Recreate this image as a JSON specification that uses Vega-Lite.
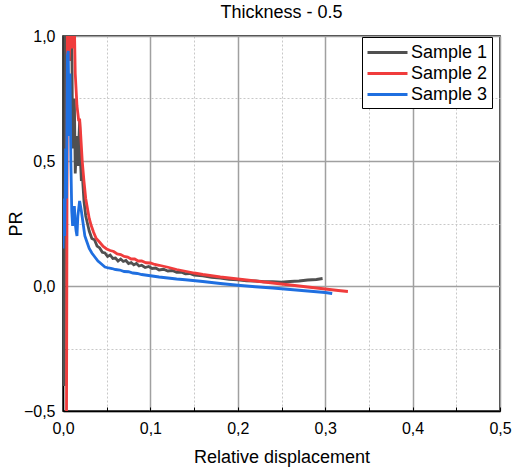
{
  "$schema": "https://vega.github.io/schema/vega-lite/v6.json",
  "width": 437,
  "height": 375,
  "autosize": {"type": "none"},
  "padding": {"left": 63, "top": 36, "right": 12, "bottom": 61},
  "background": "white",
  "title": {"text": "Thickness - 0.5", "fontSize": 18, "font": "Liberation Sans", "fontWeight": "normal", "color": "black", "offset": 6},
  "config": {
    "view": {"stroke": "black", "strokeWidth": 1.5},
    "font": "Liberation Sans"
  },
  "data": {"values": [
    {"series": "Sample 1", "x": 0.0015, "y": -0.40},
    {"series": "Sample 1", "x": 0.0018, "y": 0.3},
    {"series": "Sample 1", "x": 0.002, "y": 1.05},
    {"series": "Sample 1", "x": 0.004, "y": 0.8},
    {"series": "Sample 1", "x": 0.006, "y": 1.05},
    {"series": "Sample 1", "x": 0.008, "y": 0.9},
    {"series": "Sample 1", "x": 0.010, "y": 1.05},
    {"series": "Sample 1", "x": 0.011, "y": 0.55},
    {"series": "Sample 1", "x": 0.013, "y": 0.75},
    {"series": "Sample 1", "x": 0.014, "y": 0.45},
    {"series": "Sample 1", "x": 0.016, "y": 0.6},
    {"series": "Sample 1", "x": 0.017, "y": 0.48},
    {"series": "Sample 1", "x": 0.019, "y": 0.66},
    {"series": "Sample 1", "x": 0.020, "y": 0.5},
    {"series": "Sample 1", "x": 0.021, "y": 0.42},
    {"series": "Sample 1", "x": 0.022, "y": 0.45},
    {"series": "Sample 1", "x": 0.024, "y": 0.34},
    {"series": "Sample 1", "x": 0.026, "y": 0.28},
    {"series": "Sample 1", "x": 0.028, "y": 0.25},
    {"series": "Sample 1", "x": 0.030, "y": 0.22},
    {"series": "Sample 1", "x": 0.033, "y": 0.19},
    {"series": "Sample 1", "x": 0.036, "y": 0.185},
    {"series": "Sample 1", "x": 0.039, "y": 0.16},
    {"series": "Sample 1", "x": 0.042, "y": 0.152},
    {"series": "Sample 1", "x": 0.045, "y": 0.135},
    {"series": "Sample 1", "x": 0.048, "y": 0.132},
    {"series": "Sample 1", "x": 0.051, "y": 0.118},
    {"series": "Sample 1", "x": 0.054, "y": 0.124},
    {"series": "Sample 1", "x": 0.057, "y": 0.11},
    {"series": "Sample 1", "x": 0.060, "y": 0.112},
    {"series": "Sample 1", "x": 0.063, "y": 0.1},
    {"series": "Sample 1", "x": 0.066, "y": 0.108},
    {"series": "Sample 1", "x": 0.069, "y": 0.098},
    {"series": "Sample 1", "x": 0.072, "y": 0.102},
    {"series": "Sample 1", "x": 0.075, "y": 0.09},
    {"series": "Sample 1", "x": 0.078, "y": 0.094},
    {"series": "Sample 1", "x": 0.081, "y": 0.085},
    {"series": "Sample 1", "x": 0.084, "y": 0.09},
    {"series": "Sample 1", "x": 0.087, "y": 0.08},
    {"series": "Sample 1", "x": 0.090, "y": 0.083},
    {"series": "Sample 1", "x": 0.094, "y": 0.074},
    {"series": "Sample 1", "x": 0.098, "y": 0.078},
    {"series": "Sample 1", "x": 0.102, "y": 0.07},
    {"series": "Sample 1", "x": 0.106, "y": 0.072},
    {"series": "Sample 1", "x": 0.11, "y": 0.064},
    {"series": "Sample 1", "x": 0.115, "y": 0.067},
    {"series": "Sample 1", "x": 0.12, "y": 0.06},
    {"series": "Sample 1", "x": 0.125, "y": 0.062},
    {"series": "Sample 1", "x": 0.13, "y": 0.055},
    {"series": "Sample 1", "x": 0.135, "y": 0.056},
    {"series": "Sample 1", "x": 0.14, "y": 0.049},
    {"series": "Sample 1", "x": 0.145, "y": 0.05},
    {"series": "Sample 1", "x": 0.15, "y": 0.044},
    {"series": "Sample 1", "x": 0.16, "y": 0.041},
    {"series": "Sample 1", "x": 0.17, "y": 0.035},
    {"series": "Sample 1", "x": 0.18, "y": 0.032},
    {"series": "Sample 1", "x": 0.19, "y": 0.027},
    {"series": "Sample 1", "x": 0.2, "y": 0.025},
    {"series": "Sample 1", "x": 0.21, "y": 0.021},
    {"series": "Sample 1", "x": 0.22, "y": 0.02},
    {"series": "Sample 1", "x": 0.23, "y": 0.017},
    {"series": "Sample 1", "x": 0.24, "y": 0.017},
    {"series": "Sample 1", "x": 0.25, "y": 0.015},
    {"series": "Sample 1", "x": 0.26, "y": 0.018},
    {"series": "Sample 1", "x": 0.27, "y": 0.02},
    {"series": "Sample 1", "x": 0.28, "y": 0.024},
    {"series": "Sample 1", "x": 0.29, "y": 0.026},
    {"series": "Sample 1", "x": 0.297, "y": 0.03},

    {"series": "Sample 2", "x": 0.004, "y": -0.55},
    {"series": "Sample 2", "x": 0.0045, "y": 0.2},
    {"series": "Sample 2", "x": 0.005, "y": 1.05},
    {"series": "Sample 2", "x": 0.007, "y": 0.9},
    {"series": "Sample 2", "x": 0.009, "y": 1.05},
    {"series": "Sample 2", "x": 0.011, "y": 0.95},
    {"series": "Sample 2", "x": 0.013, "y": 1.05},
    {"series": "Sample 2", "x": 0.014, "y": 0.85},
    {"series": "Sample 2", "x": 0.016, "y": 0.72},
    {"series": "Sample 2", "x": 0.018, "y": 0.66},
    {"series": "Sample 2", "x": 0.019, "y": 0.67},
    {"series": "Sample 2", "x": 0.020, "y": 0.62},
    {"series": "Sample 2", "x": 0.022, "y": 0.5},
    {"series": "Sample 2", "x": 0.024, "y": 0.42},
    {"series": "Sample 2", "x": 0.026, "y": 0.35},
    {"series": "Sample 2", "x": 0.028, "y": 0.31},
    {"series": "Sample 2", "x": 0.030, "y": 0.27},
    {"series": "Sample 2", "x": 0.032, "y": 0.245},
    {"series": "Sample 2", "x": 0.035, "y": 0.215},
    {"series": "Sample 2", "x": 0.038, "y": 0.19},
    {"series": "Sample 2", "x": 0.042, "y": 0.175},
    {"series": "Sample 2", "x": 0.046, "y": 0.158},
    {"series": "Sample 2", "x": 0.05, "y": 0.148},
    {"series": "Sample 2", "x": 0.054, "y": 0.142},
    {"series": "Sample 2", "x": 0.058, "y": 0.138},
    {"series": "Sample 2", "x": 0.062, "y": 0.128},
    {"series": "Sample 2", "x": 0.066, "y": 0.126},
    {"series": "Sample 2", "x": 0.07, "y": 0.118},
    {"series": "Sample 2", "x": 0.074, "y": 0.116},
    {"series": "Sample 2", "x": 0.078, "y": 0.108},
    {"series": "Sample 2", "x": 0.082, "y": 0.108},
    {"series": "Sample 2", "x": 0.086, "y": 0.1},
    {"series": "Sample 2", "x": 0.09, "y": 0.1},
    {"series": "Sample 2", "x": 0.095, "y": 0.093},
    {"series": "Sample 2", "x": 0.1, "y": 0.092},
    {"series": "Sample 2", "x": 0.105, "y": 0.086},
    {"series": "Sample 2", "x": 0.11, "y": 0.083},
    {"series": "Sample 2", "x": 0.12, "y": 0.075},
    {"series": "Sample 2", "x": 0.13, "y": 0.066},
    {"series": "Sample 2", "x": 0.14, "y": 0.059},
    {"series": "Sample 2", "x": 0.15, "y": 0.052},
    {"series": "Sample 2", "x": 0.16, "y": 0.046},
    {"series": "Sample 2", "x": 0.17, "y": 0.041},
    {"series": "Sample 2", "x": 0.18, "y": 0.036},
    {"series": "Sample 2", "x": 0.19, "y": 0.032},
    {"series": "Sample 2", "x": 0.2, "y": 0.028},
    {"series": "Sample 2", "x": 0.22, "y": 0.02},
    {"series": "Sample 2", "x": 0.24, "y": 0.012},
    {"series": "Sample 2", "x": 0.26, "y": 0.004},
    {"series": "Sample 2", "x": 0.28, "y": -0.004},
    {"series": "Sample 2", "x": 0.3, "y": -0.012},
    {"series": "Sample 2", "x": 0.315, "y": -0.018},
    {"series": "Sample 2", "x": 0.326, "y": -0.022},

    {"series": "Sample 3", "x": 0.0, "y": 0.15},
    {"series": "Sample 3", "x": 0.001, "y": 0.35},
    {"series": "Sample 3", "x": 0.002, "y": 0.2},
    {"series": "Sample 3", "x": 0.003, "y": 0.55},
    {"series": "Sample 3", "x": 0.004, "y": 0.35},
    {"series": "Sample 3", "x": 0.005, "y": 0.92},
    {"series": "Sample 3", "x": 0.006, "y": 0.94},
    {"series": "Sample 3", "x": 0.007, "y": 0.6},
    {"series": "Sample 3", "x": 0.008, "y": 0.85},
    {"series": "Sample 3", "x": 0.009, "y": 0.5},
    {"series": "Sample 3", "x": 0.010, "y": 0.3},
    {"series": "Sample 3", "x": 0.011, "y": 0.24},
    {"series": "Sample 3", "x": 0.012, "y": 0.28},
    {"series": "Sample 3", "x": 0.013, "y": 0.32},
    {"series": "Sample 3", "x": 0.014, "y": 0.25},
    {"series": "Sample 3", "x": 0.015, "y": 0.22},
    {"series": "Sample 3", "x": 0.016, "y": 0.2},
    {"series": "Sample 3", "x": 0.017, "y": 0.28},
    {"series": "Sample 3", "x": 0.019, "y": 0.34},
    {"series": "Sample 3", "x": 0.021, "y": 0.3},
    {"series": "Sample 3", "x": 0.023, "y": 0.25},
    {"series": "Sample 3", "x": 0.025, "y": 0.2},
    {"series": "Sample 3", "x": 0.027, "y": 0.18},
    {"series": "Sample 3", "x": 0.03, "y": 0.15},
    {"series": "Sample 3", "x": 0.033, "y": 0.132},
    {"series": "Sample 3", "x": 0.036, "y": 0.118},
    {"series": "Sample 3", "x": 0.04, "y": 0.1},
    {"series": "Sample 3", "x": 0.044, "y": 0.088},
    {"series": "Sample 3", "x": 0.048, "y": 0.076},
    {"series": "Sample 3", "x": 0.052, "y": 0.072},
    {"series": "Sample 3", "x": 0.056, "y": 0.07},
    {"series": "Sample 3", "x": 0.06, "y": 0.066},
    {"series": "Sample 3", "x": 0.065, "y": 0.064},
    {"series": "Sample 3", "x": 0.07, "y": 0.058},
    {"series": "Sample 3", "x": 0.075, "y": 0.057},
    {"series": "Sample 3", "x": 0.08, "y": 0.052},
    {"series": "Sample 3", "x": 0.085, "y": 0.05},
    {"series": "Sample 3", "x": 0.09, "y": 0.046},
    {"series": "Sample 3", "x": 0.1, "y": 0.041},
    {"series": "Sample 3", "x": 0.11, "y": 0.036},
    {"series": "Sample 3", "x": 0.12, "y": 0.032},
    {"series": "Sample 3", "x": 0.13, "y": 0.028},
    {"series": "Sample 3", "x": 0.14, "y": 0.025},
    {"series": "Sample 3", "x": 0.16, "y": 0.018},
    {"series": "Sample 3", "x": 0.18, "y": 0.01},
    {"series": "Sample 3", "x": 0.2, "y": 0.003},
    {"series": "Sample 3", "x": 0.22, "y": -0.003},
    {"series": "Sample 3", "x": 0.24, "y": -0.008},
    {"series": "Sample 3", "x": 0.26, "y": -0.014},
    {"series": "Sample 3", "x": 0.28, "y": -0.02},
    {"series": "Sample 3", "x": 0.3, "y": -0.026},
    {"series": "Sample 3", "x": 0.308, "y": -0.03}
  ]},
  "mark": {"type": "line", "strokeWidth": 2.8, "clip": true},
  "encoding": {
    "x": {
      "field": "x", "type": "quantitative",
      "scale": {"domain": [0, 0.5], "nice": false, "zero": false},
      "axis": {
        "title": "Relative displacement", "titleFontSize": 18, "titleFontWeight": "normal", "titleColor": "black", "titlePadding": 12,
        "values": [0, 0.05, 0.1, 0.15, 0.2, 0.25, 0.3, 0.35, 0.4, 0.45, 0.5],
        "labelExpr": "abs(datum.value*10 - round(datum.value*10)) > 0.01 ? '' : replace(format(datum.value, '.1f'), '.', ',')",
        "labelFontSize": 16, "labelColor": "black", "labelPadding": 13, "labelFlush": false,
        "domain": true, "domainColor": "black", "domainWidth": 1.5,
        "tickSize": -4, "tickColor": "black", "tickWidth": 1,
        "grid": true,
        "gridColor": {"condition": {"test": "abs(datum.value*10 - round(datum.value*10)) > 0.01", "value": "#c8c8c8"}, "value": "#a0a0a0"},
        "gridDash": {"condition": {"test": "abs(datum.value*10 - round(datum.value*10)) > 0.01", "value": [2, 2]}, "value": []},
        "gridWidth": {"condition": {"test": "abs(datum.value*10 - round(datum.value*10)) > 0.01", "value": 1}, "value": 1.5}
      }
    },
    "y": {
      "field": "y", "type": "quantitative",
      "scale": {"domain": [-0.5, 1.0], "nice": false, "zero": false},
      "axis": {
        "title": "PR", "titleFontSize": 18, "titleFontWeight": "normal", "titleColor": "black", "titlePadding": -2,
        "values": [-0.5, -0.25, 0, 0.25, 0.5, 0.75, 1.0],
        "labelExpr": "abs(datum.value*2 - round(datum.value*2)) > 0.01 ? '' : replace(format(datum.value, '.1f'), '.', ',')",
        "labelFontSize": 16, "labelColor": "black", "labelPadding": 12, "labelFlush": false,
        "domain": true, "domainColor": "black", "domainWidth": 1.5,
        "tickSize": -4, "tickColor": "black", "tickWidth": 1,
        "grid": true,
        "gridColor": {"condition": {"test": "abs(datum.value*2 - round(datum.value*2)) > 0.01", "value": "#c8c8c8"}, "value": "#a0a0a0"},
        "gridDash": {"condition": {"test": "abs(datum.value*2 - round(datum.value*2)) > 0.01", "value": [2, 2]}, "value": []},
        "gridWidth": {"condition": {"test": "abs(datum.value*2 - round(datum.value*2)) > 0.01", "value": 1}, "value": 1.5}
      }
    },
    "color": {
      "field": "series", "type": "nominal",
      "scale": {"domain": ["Sample 1", "Sample 2", "Sample 3"], "range": ["#505050", "#f03c3c", "#1f6fe0"]},
      "legend": {
        "title": null, "orient": "none", "legendX": 299, "legendY": 1,
        "symbolType": "M-1,0H3", "symbolSize": 400, "symbolStrokeWidth": 3,
        "labelFontSize": 18, "labelColor": "black", "labelOffset": 22,
        "rowPadding": 0, "padding": 4,
        "strokeColor": "black", "fillColor": "white"
      }
    }
  }
}
